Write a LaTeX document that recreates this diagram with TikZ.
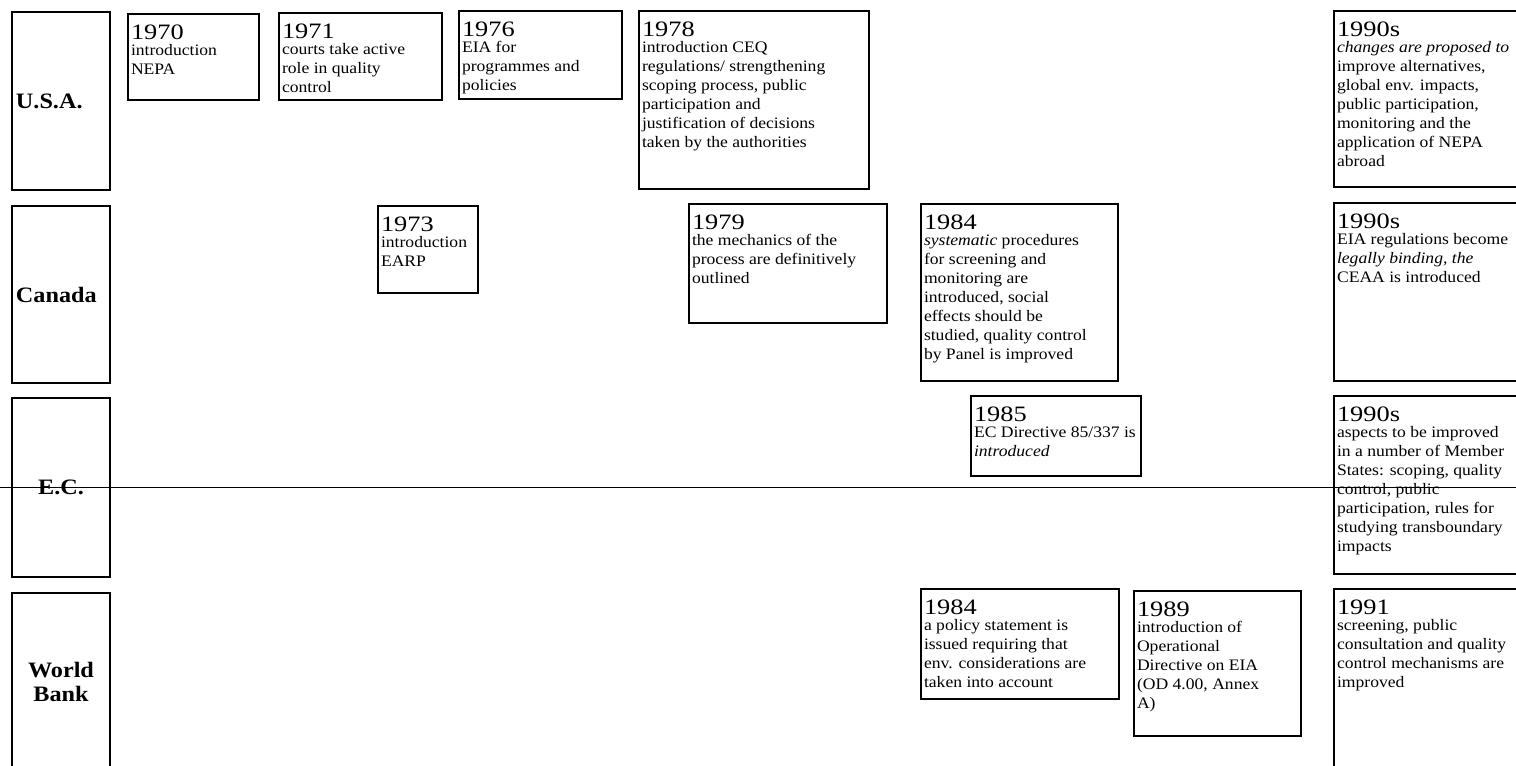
\documentclass[tikz,border=0pt]{standalone}
\usepackage{fontspec}
\setmainfont{Liberation Serif}[FakeStretch=1.1]
\newfontfamily\yearfont{Liberation Serif}[FakeStretch=1.2]
\usepackage{tikz}

% year on top, description below, box of fixed size
\newcommand{\evbox}[4]{\parbox[c][#2pt][t]{#1pt}{\raggedright
  {\yearfont\fontsize{22}{22}\selectfont\rule{0pt}{22pt}#3\par}
  \vspace{-2.5pt}\fontsize{16}{19}\selectfont #4}}

\begin{document}
\begin{tikzpicture}[x=1pt,y=-1pt,
                   country/.style={draw,line width=2pt,inner sep=0pt,
                                   font=\bfseries\fontsize{22}{24}\selectfont},
                   event/.style={draw,line width=2pt,anchor=north west,inner sep=3pt}]
\useasboundingbox (0,0) rectangle (1516,766);
\clip (0,0) rectangle (1516,766);
\coordinate (ruleL) at (0,487);
\coordinate (ruleR) at (1516,487);
\draw[line width=0.8pt] (ruleL) -- (ruleR);
\foreach \n/\t/\b/\al/\txt in {usa/12/190/left/U.S.A.,canada/206/383/left/Canada,ec/398/577/center/E.C.,wb/593/770/center/{World\\Bank}}{
  \node[country,minimum width=98pt,minimum height=\b-\t,text width=90pt,align=\al] (\n) at (61,{(\t+\b)/2}) {\txt};
}
% U.S.A.
\node[event] (usa70) at (127,13) {\evbox{125}{80}{1970}{introduction\\NEPA}};
\node[event] (usa71) at (278,12) {\evbox{157}{81}{1971}{courts take active\\role in quality\\control}};
\node[event] (usa76) at (458,10) {\evbox{157}{82}{1976}{EIA for\\programmes and\\policies}};
\node[event] (usa78) at (638,10) {\evbox{224}{172}{1978}{introduction CEQ\\regulations/ strengthening\\scoping process, public\\participation and\\justification of decisions\\taken by the authorities}};
\node[event] (usa90) at (1333,10) {\evbox{178}{170}{1990s}{\textit{changes are proposed to}\\improve alternatives,\\global env. impacts,\\public participation,\\monitoring and the\\application of NEPA\\abroad}};
% Canada
\node[event] (can73) at (377,205) {\evbox{94}{81}{1973}{introduction\\EARP}};
\node[event] (can79) at (688,203) {\evbox{192}{113}{1979}{the mechanics of the\\process are definitively\\outlined}};
\node[event] (can84) at (920,203) {\evbox{191}{171}{1984}{\textit{systematic} procedures\\for screening and\\monitoring are\\introduced, social\\effects should be\\studied, quality control\\by Panel is improved}};
\node[event] (can90) at (1333,202) {\evbox{178}{172}{1990s}{EIA regulations become\\\textit{legally binding, the}\\CEAA is introduced}};
% E.C.
\node[event] (ec85) at (970,395) {\evbox{164}{74}{1985}{EC Directive 85/337 is\\\textit{introduced}}};
\node[event] (ec90) at (1333,395) {\evbox{178}{172}{1990s}{aspects to be improved\\in a number of Member\\States: scoping, quality\\control, public\\participation, rules for\\studying transboundary\\impacts}};
% World Bank
\node[event] (wb84) at (920,588) {\evbox{192}{104}{1984}{a policy statement is\\issued requiring that\\env. considerations are\\taken into account}};
\node[event] (wb89) at (1133,590) {\evbox{161}{139}{1989}{introduction of\\Operational\\Directive on EIA\\(OD 4.00, Annex\\A)}};
\node[event] (wb91) at (1333,588) {\evbox{178}{185}{1991}{screening, public\\consultation and quality\\control mechanisms are\\improved}};
\end{tikzpicture}
\end{document}
